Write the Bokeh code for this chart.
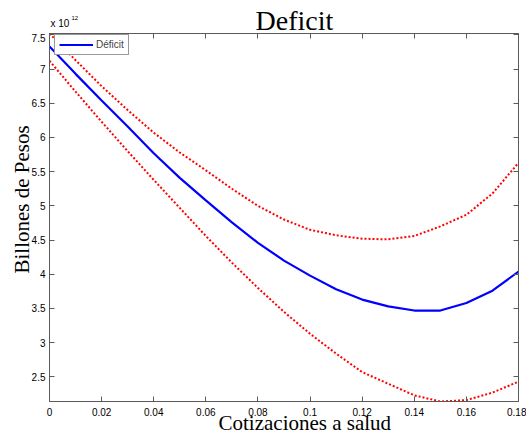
from bokeh.plotting import figure
from bokeh.layouts import column
from bokeh.models import (Range1d, LinearAxis, FixedTicker, CustomJSTickFormatter,
                          Legend, LegendItem, Title, Label)
from bokeh.embed import file_html
from bokeh.resources import INLINE

# ---- data (values in units of 10^12 pesos) ----
cotizaciones = [0.00, 0.01, 0.02, 0.03, 0.04, 0.05, 0.06, 0.07, 0.08, 0.09,
                0.10, 0.11, 0.12, 0.13, 0.14, 0.15, 0.16, 0.17, 0.18]
deficit = [7.33, 6.93, 6.54, 6.16, 5.77, 5.41, 5.08, 4.76, 4.46, 4.20,
           3.98, 3.78, 3.63, 3.53, 3.47, 3.47, 3.58, 3.76, 4.04]
deficit_upper = [7.52, 7.13, 6.75, 6.40, 6.07, 5.78, 5.52, 5.25, 5.00, 4.80,
                 4.65, 4.57, 4.52, 4.51, 4.56, 4.70, 4.87, 5.18, 5.63]
deficit_lower = [7.12, 6.67, 6.23, 5.80, 5.38, 4.97, 4.56, 4.17, 3.80, 3.45,
                 3.13, 2.84, 2.57, 2.40, 2.23, 2.14, 2.16, 2.27, 2.43]
x_ticks = [0, 0.02, 0.04, 0.06, 0.08, 0.10, 0.12, 0.14, 0.16, 0.18]
y_ticks = [2.5, 3, 3.5, 4, 4.5, 5, 5.5, 6, 6.5, 7, 7.5]

title_text = "Deficit"
x_label = "Cotizaciones a salud"
y_label = "Billones de Pesos"
legend_label = "Déficit"
exponent_base = "x 10"
exponent_power = "12"

AXIS_COLOR = "#5a5a5a"
SANS = "Liberation Sans"
SERIF = "Liberation Serif"

# ---- header strip: title and the "x 10^12" exponent marker ----
# (its frame is aligned with the main chart's frame by the column layout)
head = figure(width=526, height=33, output_backend="svg", toolbar_location=None,
              x_range=Range1d(0, 1), y_range=Range1d(0, 1),
              x_axis_type=None, y_axis_type=None, min_border=0,
              outline_line_color=None, background_fill_color="white",
              border_fill_color="white")
head.grid.visible = False
head.add_layout(Label(x=206, y=13, x_units="screen", y_units="screen",
                      text=title_text, text_font=SERIF, text_font_size="28px",
                      text_align="left", text_baseline="alphabetic",
                      text_color="black"))
head.add_layout(Label(x=1, y=10, x_units="screen", y_units="screen",
                      text=exponent_base, text_font=SANS, text_font_size="10px",
                      text_align="left", text_baseline="alphabetic",
                      text_color="black"))
head.add_layout(Label(x=22, y=16, x_units="screen", y_units="screen",
                      text=exponent_power, text_font=SANS, text_font_size="6px",
                      text_align="left", text_baseline="alphabetic",
                      text_color="black"))

# ---- main chart ----
p = figure(width=526, height=403, output_backend="svg", toolbar_location=None,
           x_range=Range1d(min(cotizaciones), max(cotizaciones)),
           y_range=Range1d(min(deficit_lower), max(deficit_upper)),
           min_border_left=49, min_border_right=8, min_border_top=0,
           min_border_bottom=35, background_fill_color="white",
           border_fill_color="white", outline_line_color=AXIS_COLOR)
p.grid.visible = False

fmt_code = "return String(parseFloat(tick.toFixed(4)));"


def style_axis(ax, ticks, labels=True):
    ax.ticker = FixedTicker(ticks=ticks)
    ax.major_tick_in = 5
    ax.major_tick_out = 0
    ax.minor_tick_line_color = None
    ax.axis_line_color = AXIS_COLOR
    ax.major_tick_line_color = AXIS_COLOR
    if labels:
        ax.formatter = CustomJSTickFormatter(code=fmt_code)
        ax.major_label_text_font = SANS
        ax.major_label_text_font_size = "10px"
        ax.major_label_text_color = "black"
    else:
        ax.formatter = CustomJSTickFormatter(code="return '';")
        ax.major_label_text_font_size = "1px"
        ax.major_label_standoff = 0


style_axis(p.xaxis[0], x_ticks)
p.xaxis[0].major_label_standoff = 6
style_axis(p.yaxis[0], y_ticks)
p.yaxis[0].major_label_standoff = 4

# top and right axes (ticks only) to close the box like the original
top_ax = LinearAxis()
style_axis(top_ax, x_ticks, labels=False)
p.add_layout(top_ax, "above")
right_ax = LinearAxis()
style_axis(right_ax, y_ticks, labels=False)
p.add_layout(right_ax, "right")

# axis labels
p.add_layout(Title(text=x_label, align="left", offset=169, standoff=-16,
                   vertical_align="top", text_font=SERIF,
                   text_font_size="21px", text_font_style="normal",
                   text_color="black"), "below")
p.add_layout(Title(text=y_label, align="left", offset=128, standoff=-10,
                   vertical_align="bottom", text_font=SERIF,
                   text_font_size="21px", text_font_style="normal",
                   text_color="black"), "left")

r_up = p.line(cotizaciones, deficit_upper, line_color="#ff0000", line_width=2,
              line_dash="2 2")
r_lo = p.line(cotizaciones, deficit_lower, line_color="#ff0000", line_width=2,
              line_dash="2 2")
r_def = p.line(cotizaciones, deficit, line_color="#0000ff", line_width=2.2)

legend = Legend(items=[LegendItem(label=legend_label, renderers=[r_def])],
                location=(5, 346), padding=4, margin=0, glyph_width=34,
                glyph_height=9, label_height=9, label_standoff=3,
                label_text_font=SANS, label_text_font_size="10px",
                border_line_color="#333333", border_line_width=1,
                background_fill_color="white", background_fill_alpha=1.0)
p.add_layout(legend, "center")

layout = column(head, p, spacing=0)
open("out.html", "w").write(file_html(layout, INLINE))
